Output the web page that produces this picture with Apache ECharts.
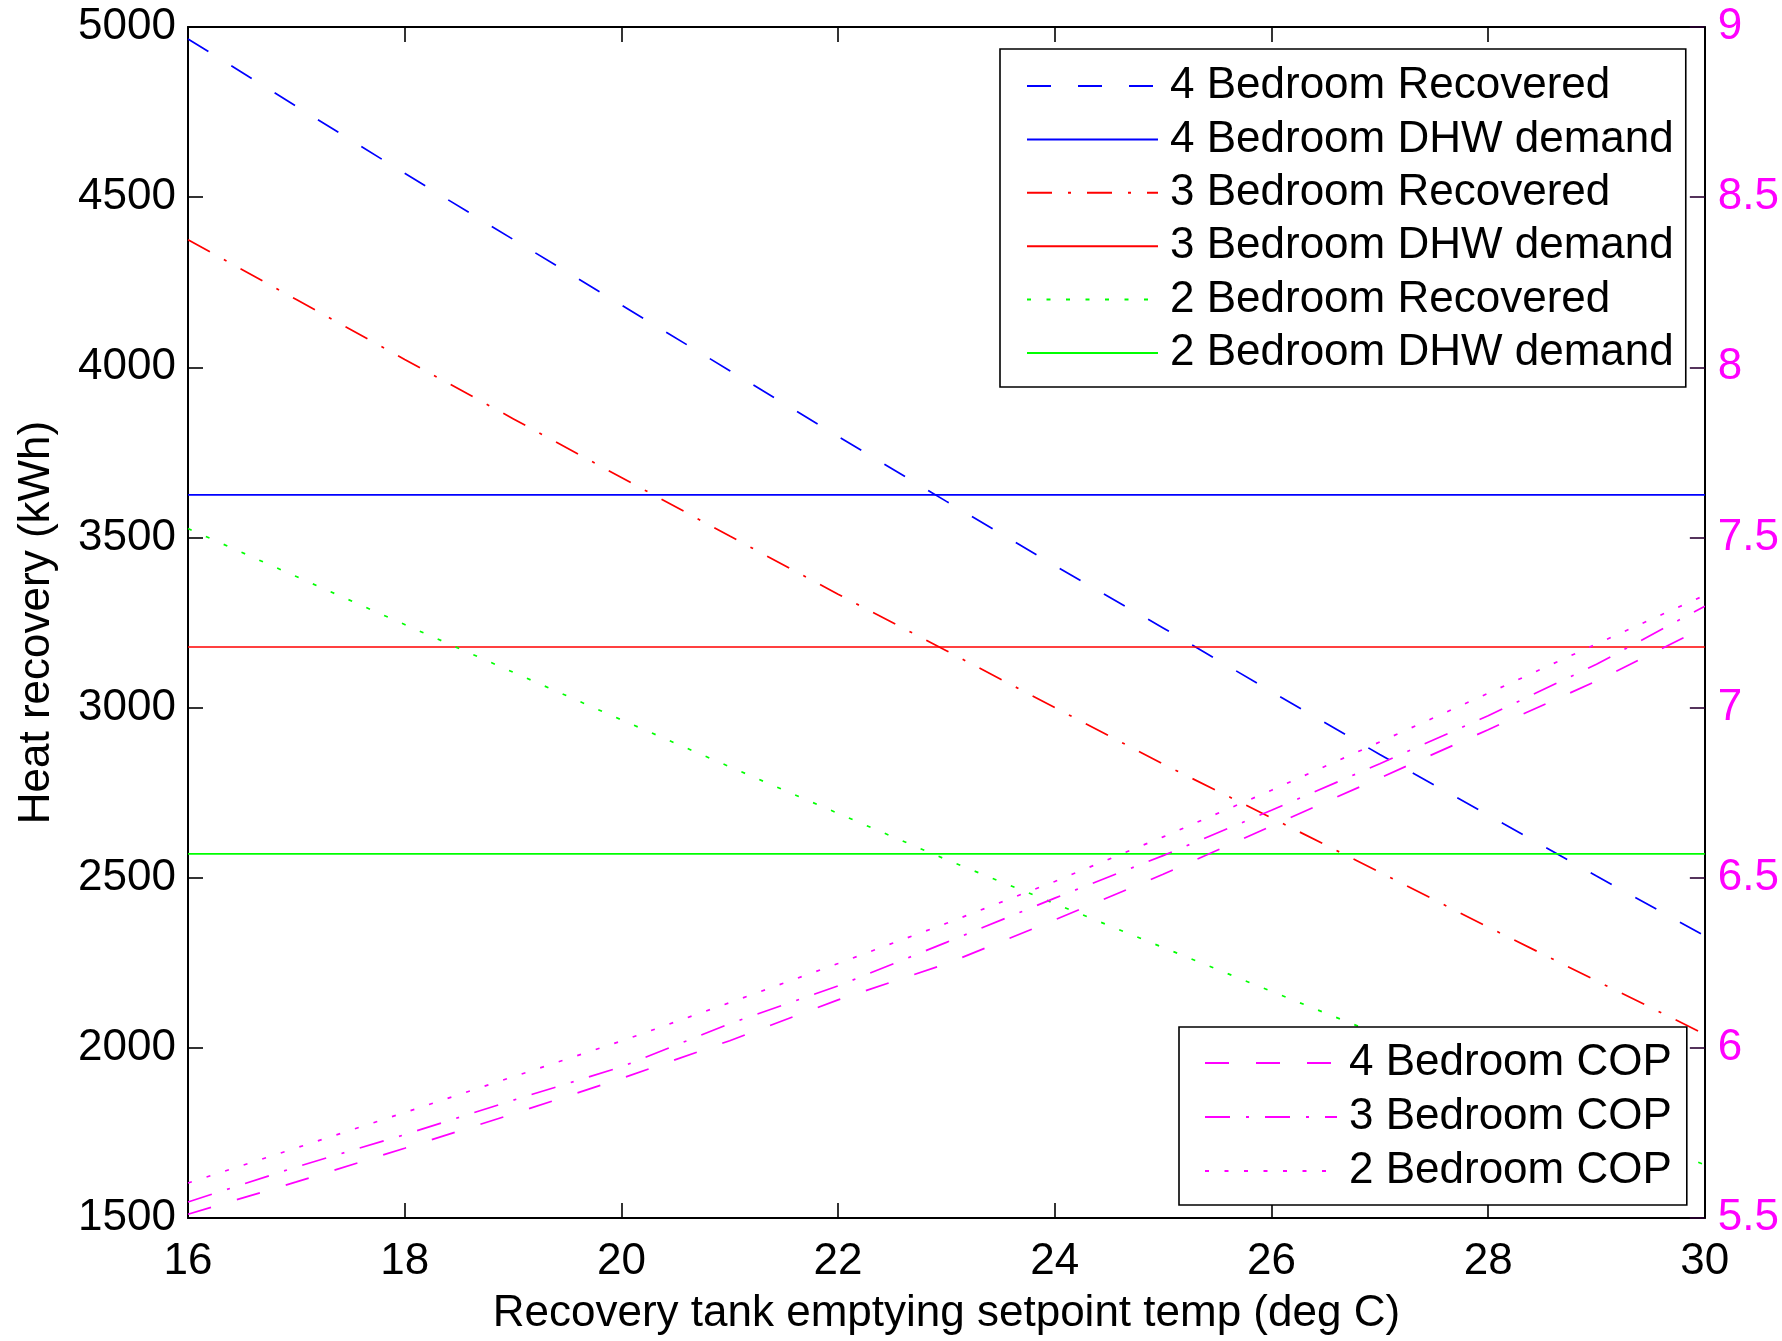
<!DOCTYPE html>
<html>
<head>
<meta charset="utf-8">
<title>Heat recovery vs recovery tank setpoint</title>
<script src="https://cdn.jsdelivr.net/npm/echarts@6/dist/echarts.min.js"></script>
<style>
  html, body { margin: 0; padding: 0; background: #fff; }
  #main { width: 1782px; height: 1341px; }
</style>
</head>
<body>
<div id="main"></div>
<script>
// setpoint temps (deg C)
const temps = [16, 17, 18, 19, 20, 21, 22, 23, 24, 25, 26, 27, 28, 29, 30];

// heat recovered (kWh)
const rec4 = [4965, 4767, 4570, 4376, 4183, 3990, 3797, 3606, 3417, 3234, 3047, 2862, 2684, 2505, 2329];
const rec3 = [4375, 4199, 4023, 3849, 3676, 3504, 3333, 3167, 3000, 2834, 2676, 2516, 2355, 2197, 2040];
const rec2 = [3526, 3385, 3244, 3104, 2964, 2826, 2689, 2553, 2424, 2295, 2166, 2038, 1910, 1782, 1656];

// DHW demand (kWh), flat lines: 4, 3, 2 bedroom
const dhwDemand = [3625, 3178, 2570];

// COP (right axis)
const cop4 = [5.511, 5.606, 5.705, 5.806, 5.910, 6.021, 6.141, 6.247, 6.376, 6.510, 6.652, 6.793, 6.935, 7.078, 7.236];
const cop3 = [5.547, 5.650, 5.745, 5.846, 5.944, 6.071, 6.182, 6.310, 6.440, 6.565, 6.698, 6.835, 6.976, 7.127, 7.298];
const cop2 = [5.603, 5.706, 5.810, 5.915, 6.020, 6.133, 6.248, 6.366, 6.489, 6.620, 6.757, 6.899, 7.042, 7.187, 7.330];

const FONT = 'Liberation Sans';
const FS = 44;

function pairs(ys) {
  return temps.map((t, i) => [t, ys[i]]);
}
function flat(v) {
  return [[temps[0], v], [temps[temps.length - 1], v]];
}

// matlab-ish dash patterns
const DASH = [24, 27];
const DASHDOT = [25, 16, 3, 16];
const DOT = [4, 15.5];

function line(name, data, color, type, axis) {
  return {
    name: name,
    type: 'line',
    yAxisIndex: axis,
    data: data,
    symbol: 'none',
    silent: true,
    lineStyle: { color: color, width: 1.7, type: type },
    itemStyle: { color: color }
  };
}

const legendText = { fontFamily: FONT, fontSize: FS, color: '#000', padding: [0, 0, 0, 7] };
// hide the circle that line legends draw when symbol is none
const noMarker = { color: 'rgba(0,0,0,0)', borderColor: 'rgba(0,0,0,0)', borderWidth: 0 };

var option = {
  animation: false,
  backgroundColor: '#fff',
  grid: { left: 188, right: 77, top: 27, bottom: 119, containLabel: false },
  legend: [
    {
      data: ['4 Bedroom Recovered', '4 Bedroom DHW demand', '3 Bedroom Recovered',
             '3 Bedroom DHW demand', '2 Bedroom Recovered', '2 Bedroom DHW demand'],
      orient: 'vertical',
      left: 1000,
      top: 49,
      itemWidth: 131,
      itemHeight: 20,
      itemGap: 9.4,
      padding: [15, 12, 12, 26],
      backgroundColor: '#fff',
      borderColor: '#000',
      borderWidth: 1.6,
      borderRadius: 0,
      selectedMode: false,
      itemStyle: noMarker,
      textStyle: legendText
    },
    {
      data: ['4 Bedroom COP', '3 Bedroom COP', '2 Bedroom COP'],
      orient: 'vertical',
      left: 1179,
      top: 1027,
      itemWidth: 132,
      itemHeight: 20,
      itemGap: 10,
      padding: [14, 15, 12, 25],
      backgroundColor: '#fff',
      borderColor: '#000',
      borderWidth: 1.6,
      borderRadius: 0,
      selectedMode: false,
      itemStyle: noMarker,
      textStyle: legendText
    }
  ],
  xAxis: [
    {
      type: 'value',
      min: 16,
      max: 30,
      interval: 2,
      position: 'bottom',
      name: 'Recovery tank emptying setpoint temp (deg C)',
      nameLocation: 'middle',
      nameGap: 74,
      nameTextStyle: { fontFamily: FONT, fontSize: FS, color: '#000' },
      axisLine: { show: true, lineStyle: { color: '#000', width: 2 } },
      axisTick: { show: true, inside: true, length: 15, lineStyle: { color: '#000', width: 1.6 } },
      axisLabel: { fontFamily: FONT, fontSize: FS, color: '#000', margin: 22 },
      splitLine: { show: false }
    },
    {
      // top border with mirrored ticks
      type: 'value',
      min: 16,
      max: 30,
      interval: 2,
      position: 'top',
      axisLine: { show: true, lineStyle: { color: '#000', width: 2 } },
      axisTick: { show: true, inside: true, length: 15, lineStyle: { color: '#000', width: 1.6 } },
      axisLabel: { show: false },
      splitLine: { show: false }
    }
  ],
  yAxis: [
    {
      type: 'value',
      min: 1500,
      max: 5000,
      interval: 500,
      position: 'left',
      name: 'Heat recovery (kWh)',
      nameLocation: 'middle',
      nameGap: 129,
      nameTextStyle: { fontFamily: FONT, fontSize: FS, color: '#000' },
      axisLine: { show: true, lineStyle: { color: '#000', width: 2 } },
      axisTick: { show: true, inside: true, length: 15, lineStyle: { color: '#000', width: 1.6 } },
      axisLabel: { fontFamily: FONT, fontSize: FS, color: '#000', margin: 12, formatter: v => String(v) },
      splitLine: { show: false }
    },
    {
      type: 'value',
      min: 5.5,
      max: 9,
      interval: 0.5,
      position: 'right',
      axisLine: { show: true, lineStyle: { color: '#000', width: 2 } },
      axisTick: { show: true, inside: true, length: 15, lineStyle: { color: '#2a0033', width: 1.6 } },
      axisLabel: { fontFamily: FONT, fontSize: FS, color: '#ff00ff', margin: 13, formatter: v => String(v) },
      splitLine: { show: false }
    }
  ],
  series: [
    line('4 Bedroom Recovered', pairs(rec4), '#0000ff', DASH, 0),
    line('4 Bedroom DHW demand', flat(dhwDemand[0]), '#0000ff', 'solid', 0),
    line('3 Bedroom Recovered', pairs(rec3), '#ff0000', DASHDOT, 0),
    line('3 Bedroom DHW demand', flat(dhwDemand[1]), '#ff0000', 'solid', 0),
    line('2 Bedroom Recovered', pairs(rec2), '#00ff00', DOT, 0),
    line('2 Bedroom DHW demand', flat(dhwDemand[2]), '#00ff00', 'solid', 0),
    line('4 Bedroom COP', pairs(cop4), '#ff00ff', DASH, 1),
    line('3 Bedroom COP', pairs(cop3), '#ff00ff', DASHDOT, 1),
    line('2 Bedroom COP', pairs(cop2), '#ff00ff', DOT, 1)
  ]
};

var chartDom = document.getElementById('main');
var myChart = echarts.init(chartDom, null, { renderer: 'canvas' });
myChart.setOption(option);
</script>
</body>
</html>
